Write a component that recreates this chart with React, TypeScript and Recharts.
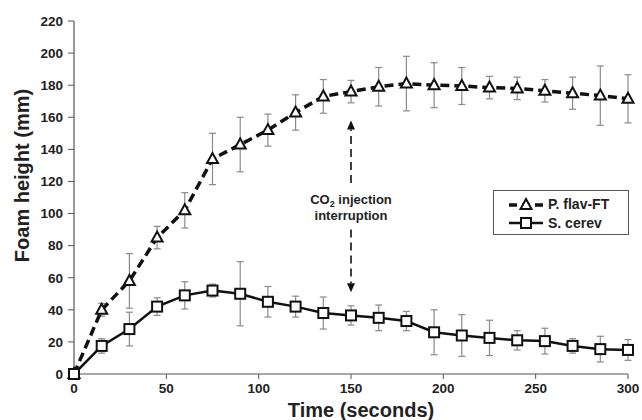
import React from 'react';
import {
  LineChart, Line, XAxis, YAxis, ErrorBar, ReferenceLine, ReferenceDot,
} from 'recharts';

const time = [0, 15, 30, 45, 60, 75, 90, 105, 120, 135, 150, 165, 180, 195, 210, 225, 240, 255, 270, 285, 300];
const pFlav = [0, 40, 58, 85, 102, 134, 143, 152, 163, 173, 176, 179, 181, 180, 179.5, 178.5, 178, 176.5, 175, 173.5, 171.5];
const pFlavErr = [0, 4, 17, 7, 11, 16, 17, 10, 11, 10.5, 7, 12, 17, 14, 11.5, 7, 7, 7, 10, 18.5, 15];
const sCerev = [0, 17.5, 28, 42, 49, 52, 50, 45, 42, 38, 36.5, 35, 33, 26, 24, 22.5, 21, 20.5, 17.5, 15.5, 15];
const sCerevErr = [0, 4.5, 10.5, 5.5, 8.5, 4, 20, 9.5, 6.5, 10, 6, 8, 6, 14, 13, 11, 6, 8, 4.5, 8, 6.5];

const yTicks = [0, 20, 40, 60, 80, 100, 120, 140, 160, 180, 200, 220];
const xTicks = [0, 50, 100, 150, 200, 250, 300];

const data = time.map((t, i) => ({
  t,
  pFlav: pFlav[i],
  pFlavErr: pFlavErr[i],
  sCerev: sCerev[i],
  sCerevErr: sCerevErr[i],
}));

const FONT = '"Liberation Sans", Arial, sans-serif';

const Triangle = (props: any) => {
  const { cx, cy } = props;
  if (cx == null || cy == null) return null;
  return (
    <polygon
      points={`${cx},${cy - 6} ${cx - 5.5},${cy + 4} ${cx + 5.5},${cy + 4}`}
      fill="#fff" stroke="#111" strokeWidth={2}
    />
  );
};

const Square = (props: any) => {
  const { cx, cy } = props;
  if (cx == null || cy == null) return null;
  return <rect x={cx - 5} y={cy - 5} width={10} height={10} fill="#fff" stroke="#111" strokeWidth={2} />;
};

const Arrow = (props: any) => {
  const { x1, y1, x2, y2 } = props;
  const dir = y2 > y1 ? 1 : -1;
  const head = 9;
  return (
    <g>
      <line x1={x1} y1={y1} x2={x2} y2={y2 - dir * head} stroke="#111" strokeWidth={1.6} strokeDasharray="8 5" />
      <polygon points={`${x2},${y2} ${x2 - 4},${y2 - dir * head} ${x2 + 4},${y2 - dir * head}`} fill="#111" />
    </g>
  );
};

const Note = (props: any) => {
  const { cx, cy } = props;
  return (
    <text x={cx} y={cy} textAnchor="middle" fontFamily={FONT} fontWeight="bold" fontSize={13} fill="#222">
      <tspan x={cx} dy={0}>CO</tspan>
      <tspan fontSize={9} dy={3}>2</tspan>
      <tspan dy={-3}> injection</tspan>
      <tspan x={cx} dy={16}>interruption</tspan>
    </text>
  );
};

const LegendBox = () => (
  <div style={{
    position: 'absolute', left: 493, top: 190,
    border: '1px solid #555', background: '#fff', width: 136, height: 45, boxSizing: 'border-box',
    fontFamily: FONT, fontWeight: 'bold', fontSize: 14, color: '#222', padding: '3px 0 0 14px',
  }}>
    <div style={{ display: 'flex', alignItems: 'center', height: 19 }}>
      <svg width={36} height={14}>
        <line x1={1} y1={8} x2={35} y2={8} stroke="#111" strokeWidth={3.5} strokeDasharray="8 5" />
        <Triangle cx={18} cy={8} />
      </svg>
      <span style={{ marginLeft: 4 }}>P. flav-FT</span>
    </div>
    <div style={{ display: 'flex', alignItems: 'center', height: 19 }}>
      <svg width={36} height={14}>
        <line x1={1} y1={7} x2={35} y2={7} stroke="#111" strokeWidth={2.5} />
        <Square cx={18} cy={7} />
      </svg>
      <span style={{ marginLeft: 4 }}>S. cerev</span>
    </div>
  </div>
);

const tickStyle = { fontFamily: FONT, fontWeight: 'bold', fontSize: 13.5, fill: '#222' };

export default function App() {
  return (
    <div style={{ position: 'absolute', left: 0, top: 0, width: 642, height: 420, background: '#fff' }}>
      <LineChart width={642} height={420} data={data} margin={{ top: 21, right: 14, left: 0, bottom: 0 }}>
        <XAxis
          dataKey="t" type="number" domain={[0, 300]} ticks={xTicks} interval={0}
          height={46} tickSize={5} tickMargin={4}
          axisLine={{ stroke: '#555', strokeWidth: 1.2 }} tickLine={{ stroke: '#555' }}
          tick={tickStyle}
          label={({ viewBox }: any) => (
            <text x={viewBox.x + viewBox.width / 2 + 10} y={viewBox.y + 43} textAnchor="middle"
              fontFamily={FONT} fontWeight="bold" fontSize={20} fill="#222">Time (seconds)</text>
          )}
        />
        <YAxis
          type="number" domain={[0, 220]} ticks={yTicks} interval={0}
          width={74} tickSize={6} tickMargin={5}
          axisLine={{ stroke: '#555', strokeWidth: 1.2 }} tickLine={{ stroke: '#555' }}
          tick={tickStyle}
          label={({ viewBox }: any) => {
            const x = viewBox.x + 29;
            const y = viewBox.y + viewBox.height / 2 - 22;
            return (
              <text x={x} y={y} transform={`rotate(-90 ${x} ${y})`} textAnchor="middle"
                fontFamily={FONT} fontWeight="bold" fontSize={20} fill="#222">Foam height (mm)</text>
            );
          }}
        />
        <ReferenceLine segment={[{ x: 150, y: 119 }, { x: 150, y: 158 }]} shape={<Arrow />} />
        <ReferenceLine segment={[{ x: 150, y: 90 }, { x: 150, y: 51 }]} shape={<Arrow />} />
        <ReferenceDot x={150} y={106} r={0} shape={<Note />} />
        <Line
          dataKey="pFlav" name="P. flav-FT" stroke="#111" strokeWidth={3.5} strokeDasharray="9 5"
          dot={<Triangle />} activeDot={false} isAnimationActive={false}
        >
          <ErrorBar dataKey="pFlavErr" width={3.5} stroke="#8a8a8a" strokeWidth={1.2} direction="y" />
        </Line>
        <Line
          dataKey="sCerev" name="S. cerev" stroke="#111" strokeWidth={2.5}
          dot={<Square />} activeDot={false} isAnimationActive={false}
        >
          <ErrorBar dataKey="sCerevErr" width={3.5} stroke="#8a8a8a" strokeWidth={1.2} direction="y" />
        </Line>
      </LineChart>
      <LegendBox />
    </div>
  );
}
